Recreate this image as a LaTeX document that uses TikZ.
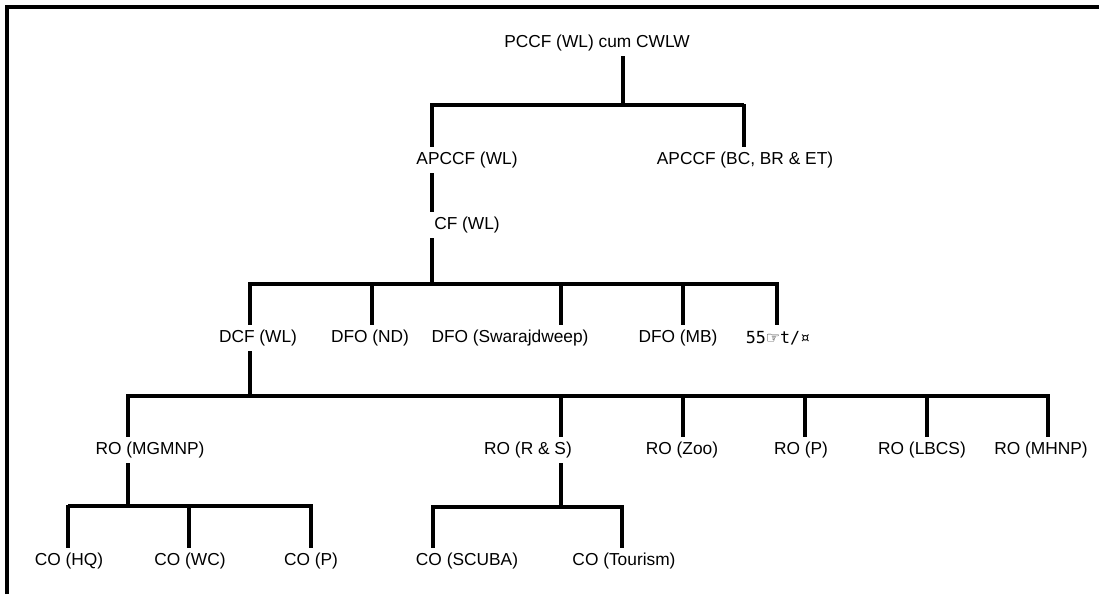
\documentclass[tikz,border=0pt]{standalone}
\usepackage{fontspec}
\setmainfont{Liberation Sans}
\newfontfamily\symfont{DejaVu Sans}
\newfontfamily\oddmono{DejaVu Sans Mono}
\begin{document}
\begin{tikzpicture}[x=0.75pt,y=-0.75pt,
  lbl/.style={inner sep=0pt, minimum height=19.5pt, font=\fontsize{13}{15}\selectfont},
  conn/.style={line width=2.4pt},
  heavy/.style={line width=3.3pt}]
\useasboundingbox (0,0) rectangle (1099,594);
\draw[line width=2.4pt] (7,594) -- (7,7) -- (1099,7);

% nodes
\node[lbl] (pccf)  at (597,43)  {PCCF (WL) cum CWLW};
\node[lbl] (apwl)  at (467,160) {APCCF (WL)};
\node[lbl] (apbc)  at (745,160) {APCCF (BC, BR \& ET)};
\node[lbl] (cfwl)  at (467,225) {CF (WL)};
\node[lbl] (dcf)   at (258,338) {DCF (WL)};
\node[lbl] (dfond) at (370,338) {DFO (ND)};
\node[lbl] (dfosw) at (510,338) {DFO (Swarajdweep)};
\node[lbl] (dfomb) at (678,338) {DFO (MB)};
\node[lbl] (odd)   at (778,338) {{\oddmono\fontsize{12.5}{14}\selectfont 55}{\symfont\fontsize{12}{14}\selectfont ☞}{\oddmono\fontsize{12.5}{14}\selectfont t/¤}};
\node[lbl] (ro1) at (150,450)  {RO (MGMNP)};
\node[lbl] (ro2) at (528,450)  {RO (R \& S)};
\node[lbl] (ro3) at (682,450)  {RO (Zoo)};
\node[lbl] (ro4) at (801,450)  {RO (P)};
\node[lbl] (ro5) at (922,450)  {RO (LBCS)};
\node[lbl] (ro6) at (1041,450) {RO (MHNP)};
\node[lbl] (co1) at (69,561)  {CO (HQ)};
\node[lbl] (co2) at (190,561) {CO (WC)};
\node[lbl] (co3) at (311,561) {CO (P)};
\node[lbl] (co4) at (467,561) {CO (SCUBA)};
\node[lbl] (co5) at (624,561) {CO (Tourism)};

% level 0 -> 1
\coordinate (j0) at (623,105);
\draw[conn] (pccf.south -| j0) -- (j0);
\draw[conn] (j0) -| (apwl.north -| 432,0);
\draw[conn] (j0) -- (744,105);
\draw[heavy] (744,104) -- (apbc.north -| 744,0);

% APCCF (WL) -> CF (WL)
\draw[conn] (apwl.south -| 432,0) -- (cfwl.north -| 432,0);

% CF (WL) -> level 3
\coordinate (j2) at (432,284);
\draw[conn] (cfwl.south -| j2) -- (j2);
\draw[conn] (j2) -| (dcf.north -| 250,0);
\draw[conn] (j2) -| (dfond.north -| 372,0);
\draw[conn] (j2) -| (dfosw.north -| 561,0);
\draw[conn] (j2) -| (dfomb.north -| 683,0);
\draw[conn] (j2) -| (odd.north -| 777,0);

% DCF (WL) -> RO
\coordinate (j3) at (250,396);
\draw[conn] (dcf.south -| j3) -- (j3);
\draw[conn] (j3) -| (ro1.north -| 128,0);
\draw[conn] (j3) -| (ro2.north -| 561,0);
\draw[conn] (j3) -| (ro3.north -| 683,0);
\draw[conn] (j3) -| (ro4.north -| 805,0);
\draw[conn] (j3) -| (ro5.north -| 927,0);
\draw[conn] (j3) -| (ro6.north -| 1048,0);

% RO (MGMNP) -> CO
\coordinate (j4) at (128,506);
\draw[conn] (ro1.south -| j4) -- (j4);
\draw[conn] (j4) -- (68,506);
\draw[heavy] (68,505) -- (co1.north -| 68,0);
\draw[conn] (j4) -| (co2.north -| 189,0);
\draw[conn] (j4) -| (co3.north -| 311,0);

% RO (R & S) -> CO
\coordinate (j5) at (561,507);
\draw[conn] (ro2.south -| j5) -- (j5);
\draw[conn] (j5) -| (co4.north -| 433,0);
\draw[conn] (j5) -| (co5.north -| 622,0);
\end{tikzpicture}
\end{document}
